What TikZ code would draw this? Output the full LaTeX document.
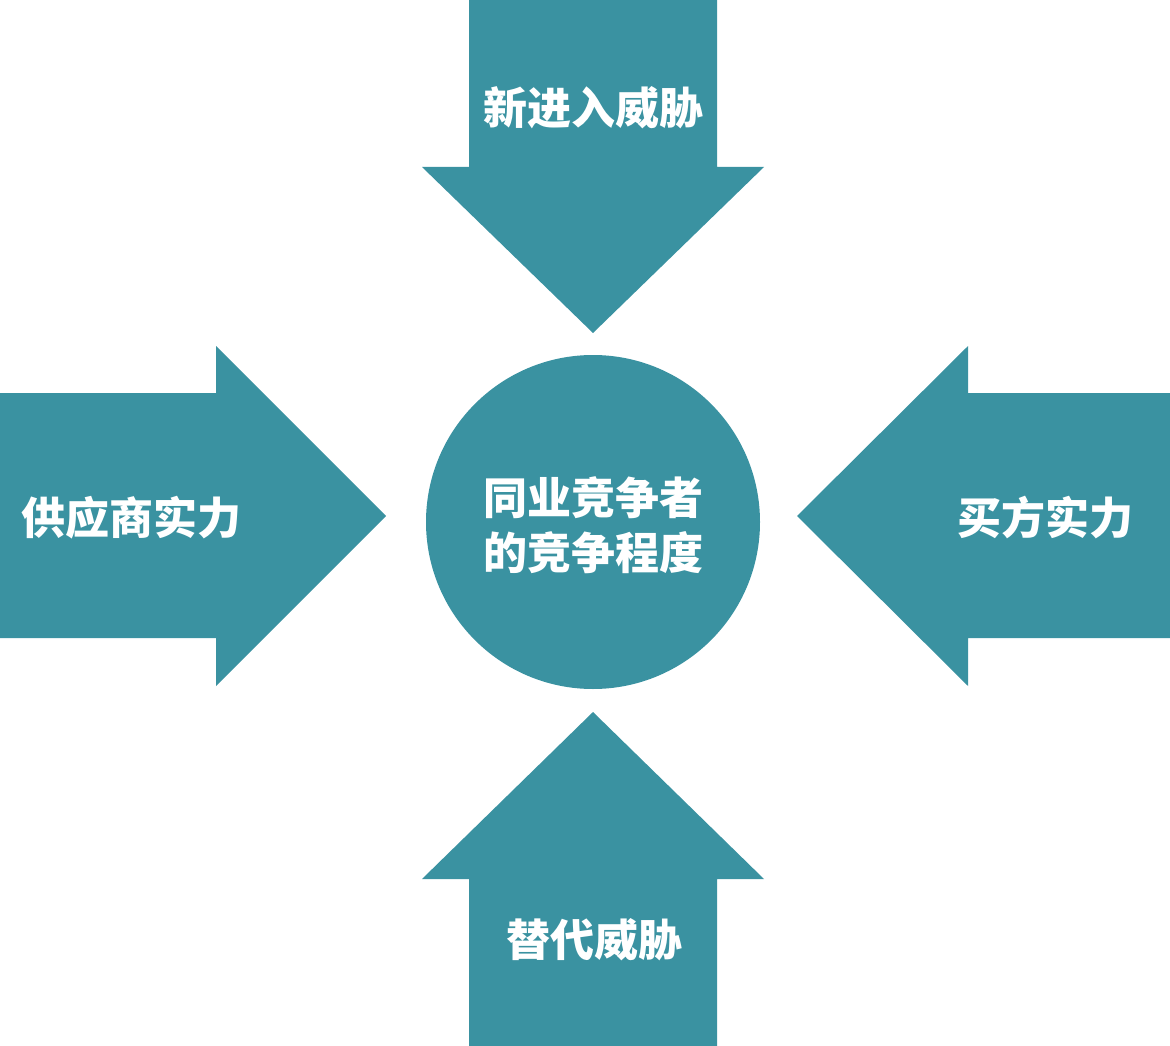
\documentclass[tikz,border=0pt]{standalone}
\usepackage{fontspec}
\newfontfamily\cjk{Noto Sans CJK SC}
\definecolor{teal1}{RGB}{58,146,161}
\tikzset{
  arrowshape/.style={fill=teal1, draw=none},
  lbl/.style={text=white, font=\cjk\bfseries\fontsize{44}{55}\selectfont, align=center, inner sep=0pt}
}
\begin{document}
\begin{tikzpicture}[x=1pt,y=-1pt]
\useasboundingbox (0,0) rectangle (1170,1046);
% top arrow (down)
\fill[arrowshape] (469,0) -- (717,0) -- (717,167) -- (764,167) -- (593,333) -- (422,167) -- (469,167) -- cycle;
% bottom arrow (up)
\fill[arrowshape] (469,1046) -- (717,1046) -- (717,879) -- (764,879) -- (593,712) -- (422,879) -- (469,879) -- cycle;
% left arrow (right)
\fill[arrowshape] (0,393) -- (216,393) -- (216,346) -- (386,516) -- (216,686) -- (216,638) -- (0,638) -- cycle;
% right arrow (left)
\fill[arrowshape] (1170,393) -- (968,393) -- (968,346) -- (797,516) -- (968,686) -- (968,638) -- (1170,638) -- cycle;
% circle
\node[circle, fill=teal1, minimum size=334pt, inner sep=0pt] (c) at (593,522) {};
\node[lbl] (ct) at (593,525) {同业竞争者\\的竞争程度};
\node[lbl] (t) at (593,108) {新进入威胁};
\node[lbl] (l) at (131,518) {供应商实力};
\node[lbl] (r) at (1045,518) {买方实力};
\node[lbl] (b) at (594,940) {替代威胁};
\end{tikzpicture}
\end{document}
